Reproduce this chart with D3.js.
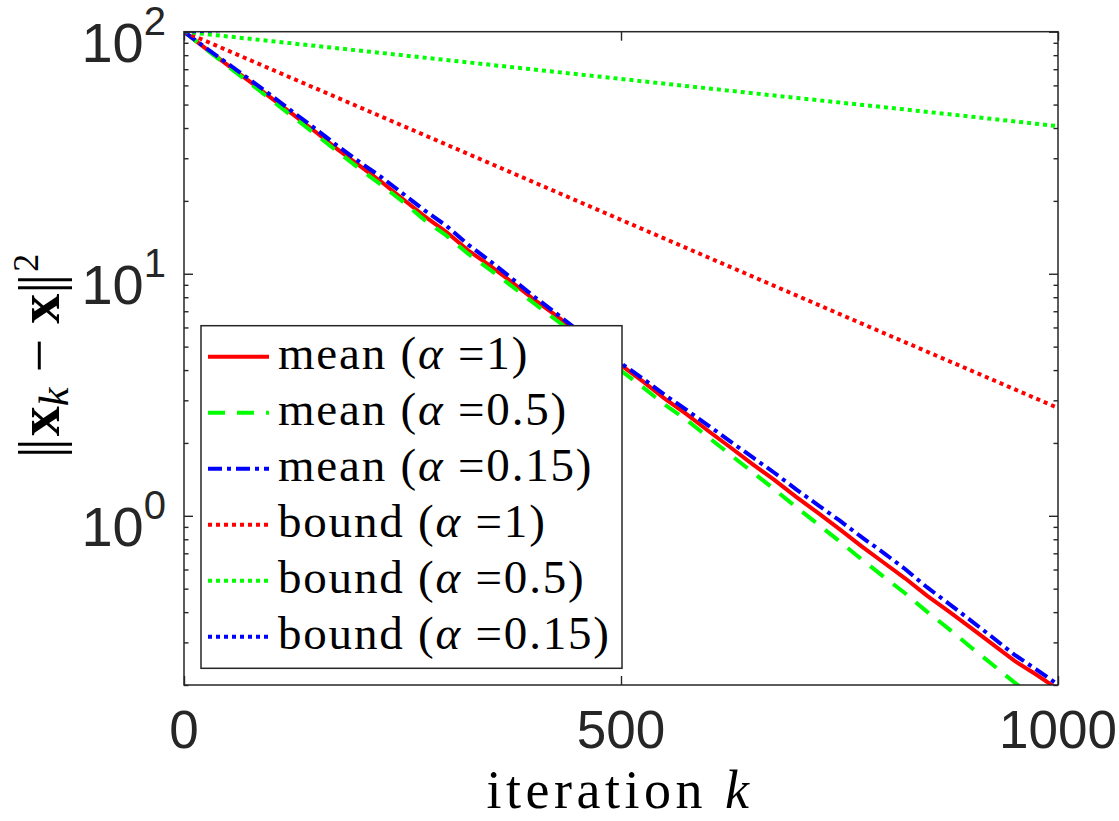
<!DOCTYPE html>
<html lang="en">
<head>
  <meta charset="utf-8" />
  <title>Convergence of iterates</title>
  <script src="https://d3js.org/d3.v7.min.js"></script>
  <style>
    body { margin: 0; padding: 0; background: #ffffff; }
    #chart { width: 1119px; height: 821px; }
    .tick-label { font-family: "Liberation Sans", Arial, sans-serif; fill: #262626; }
    .tex { font-family: "Liberation Serif", "Times New Roman", serif; fill: #000; }
  </style>
</head>
<body>
<div id="chart"></div>
<script>
// ---- data ----
const iterMean = [0, 25, 50, 75, 100, 125, 150, 175, 200, 225, 250, 275, 300, 325, 350, 375, 400,
  425, 450, 475, 500, 525, 550, 575, 600, 625, 650, 675, 700, 725, 750, 775, 800, 825, 850, 875,
  900, 925, 950, 975, 1000];

const meanA1 = [100, 85.1, 72.8, 62.4, 53.2, 45.4, 38.7, 32.8, 28.1, 24.1, 20.4, 17.3, 14.9, 12.5,
  10.8, 9.23, 7.85, 6.75, 5.75, 4.90, 4.19, 3.59, 3.05, 2.63, 2.24, 1.92, 1.64, 1.41, 1.20, 1.03,
  0.881, 0.750, 0.643, 0.552, 0.468, 0.403, 0.345, 0.295, 0.252, 0.221, 0.192];

const meanA05 = [100, 84.7, 72.1, 61.5, 52.2, 44.4, 37.8, 32.1, 27.3, 23.4, 19.9, 16.7, 14.4, 12.1,
  10.4, 8.89, 7.57, 6.47, 5.52, 4.68, 3.98, 3.40, 2.88, 2.49, 2.11, 1.79, 1.52, 1.29, 1.09, 0.925,
  0.785, 0.662, 0.562, 0.479, 0.402, 0.341, 0.287, 0.243, 0.205, 0.177, 0.151];

const meanA015 = [100, 85.7, 73.8, 63.5, 54.5, 46.5, 39.8, 33.9, 29.1, 25.2, 21.5, 18.3, 15.8, 13.2,
  11.3, 9.57, 8.07, 6.90, 5.86, 4.99, 4.27, 3.69, 3.16, 2.74, 2.36, 2.03, 1.75, 1.51, 1.29, 1.11,
  0.957, 0.818, 0.705, 0.603, 0.507, 0.434, 0.370, 0.315, 0.267, 0.232, 0.201];

const iterBound = [0, 100, 200, 300, 400, 500, 600, 700, 800, 900, 1000];
const boundA1   = [100, 69.9, 48.9, 34.2, 23.9, 16.7, 11.67, 8.16, 5.70, 3.99, 2.79];
const boundA05  = [100, 91.4, 83.6, 76.4, 69.8, 63.8, 58.3, 53.3, 48.8, 44.6, 40.7];
const boundA015 = [100, 103.5, 107.1, 110.8, 114.7, 118.7, 122.9, 127.2, 131.6, 136.2, 141.0];

const seriesKind  = ["mean", "mean", "mean", "bound", "bound", "bound"];
const seriesAlpha = ["1", "0.5", "0.15", "1", "0.5", "0.15"];

const xTickValues = [0, 500, 1000];
const yTickValues = [1, 10, 100];
const yTickExp    = ["0", "1", "2"];
const yMinorTicks = [0.2, 0.3, 0.4, 0.5, 0.6, 0.7, 0.8, 0.9, 2, 3, 4, 5, 6, 7, 8, 9,
  20, 30, 40, 50, 60, 70, 80, 90];

// ---- styles ----
const series = [
  { x: iterMean,  y: meanA1,    color: "#ff0000", dash: null },
  { x: iterMean,  y: meanA05,   color: "#00ff00", dash: "17,12" },
  { x: iterMean,  y: meanA015,  color: "#0000ff", dash: "14,5,4,5" },
  { x: iterBound, y: boundA1,   color: "#ff0000", dash: "4,4" },
  { x: iterBound, y: boundA05,  color: "#00ff00", dash: "4,4" },
  { x: iterBound, y: boundA015, color: "#0000ff", dash: "4,4" }
];

const W = 1119, H = 821;
const plot = { left: 184, right: 1058, top: 31.7, bottom: 685 };
const axisColor = "#262626";

const svg = d3.select("#chart").append("svg")
  .attr("width", W).attr("height", H);

const x = d3.scaleLinear().domain([0, 1000]).range([plot.left, plot.right]);
const y = d3.scaleLog().domain([0.2, 100]).range([plot.bottom, plot.top]);

svg.append("defs").append("clipPath").attr("id", "clip")
  .append("rect")
  .attr("x", plot.left).attr("y", plot.top)
  .attr("width", plot.right - plot.left).attr("height", plot.bottom - plot.top);

// ---- lines ----
const lineGen = d3.line().x(d => x(d[0])).y(d => y(d[1]));
const lines = svg.append("g").attr("clip-path", "url(#clip)");
series.forEach(s => {
  lines.append("path")
    .datum(s.x.map((k, i) => [k, s.y[i]]))
    .attr("d", lineGen)
    .attr("fill", "none")
    .attr("stroke", s.color)
    .attr("stroke-width", 4)
    .attr("stroke-dasharray", s.dash);
});

// ---- axes (ticks pointing inward, on all four sides) ----
function styleAxis(g) {
  g.select(".domain").remove();
  g.selectAll(".tick line").attr("stroke", axisColor).attr("stroke-width", 1.4);
  g.selectAll(".tick text").remove();
}
svg.append("g").attr("transform", `translate(${plot.left},0)`)
  .call(d3.axisRight(y).tickValues(yTickValues).tickSize(9)).call(styleAxis);
svg.append("g").attr("transform", `translate(${plot.left},0)`)
  .call(d3.axisRight(y).tickValues(yMinorTicks).tickSize(4.5)).call(styleAxis);
svg.append("g").attr("transform", `translate(${plot.right},0)`)
  .call(d3.axisLeft(y).tickValues(yTickValues).tickSize(9)).call(styleAxis);
svg.append("g").attr("transform", `translate(${plot.right},0)`)
  .call(d3.axisLeft(y).tickValues(yMinorTicks).tickSize(4.5)).call(styleAxis);
svg.append("g").attr("transform", `translate(0,${plot.bottom})`)
  .call(d3.axisTop(x).tickValues(xTickValues).tickSize(9)).call(styleAxis);
svg.append("g").attr("transform", `translate(0,${plot.top})`)
  .call(d3.axisBottom(x).tickValues(xTickValues).tickSize(9)).call(styleAxis);

svg.append("rect")
  .attr("x", plot.left).attr("y", plot.top)
  .attr("width", plot.right - plot.left).attr("height", plot.bottom - plot.top)
  .attr("fill", "none").attr("stroke", axisColor).attr("stroke-width", 1.5);

// ---- tick labels ----
svg.selectAll(".xlab").data(xTickValues).enter().append("text")
  .attr("class", "tick-label")
  .attr("x", d => x(d)).attr("y", 748)
  .attr("text-anchor", "middle")
  .style("font-size", "53px")
  .text(d => d);

yTickValues.forEach((v, i) => {
  const t = svg.append("text").attr("class", "tick-label")
    .attr("x", 166).attr("y", y(v) + 30)
    .attr("text-anchor", "end")
    .style("font-size", "56px");
  t.append("tspan").text("10");
  t.append("tspan").attr("dy", -27).style("font-size", "40px").text(yTickExp[i]);
});

// ---- axis labels ----
const xl = svg.append("text").attr("class", "tex")
  .attr("x", 620).attr("y", 808)
  .attr("text-anchor", "middle")
  .style("font-size", "54px")
  .style("letter-spacing", "4.5px");
xl.append("tspan").text("iteration ");
xl.append("tspan").style("font-style", "italic").text("k");

const yl = svg.append("text").attr("class", "tex")
  .attr("transform", "translate(59,356) rotate(-90)")
  .attr("text-anchor", "middle")
  .style("font-size", "60px");
yl.append("tspan").style("letter-spacing", "-4px").text("||");
yl.append("tspan").attr("dx", 6).style("font-weight", "bold").text("x");
yl.append("tspan").style("font-style", "italic").style("font-size", "42px").attr("dy", 9).text("k");
yl.append("tspan").attr("dy", -9).text(" \u2212 ");
yl.append("tspan").style("font-weight", "bold").text("x");
yl.append("tspan").style("letter-spacing", "-4px").text("||");
yl.append("tspan").attr("dx", 6).style("font-size", "36px").attr("dy", -21).text("2");

// ---- legend ----
const leg = { x: 201, y: 325.7, w: 421, h: 342.6, rowY: 356.7, rowStep: 56 };
const lg = svg.append("g");
lg.append("rect")
  .attr("x", leg.x).attr("y", leg.y).attr("width", leg.w).attr("height", leg.h)
  .attr("fill", "#ffffff").attr("stroke", axisColor).attr("stroke-width", 1.5);

series.forEach((s, i) => {
  const cy = leg.rowY + i * leg.rowStep;
  lg.append("line")
    .attr("x1", 208).attr("x2", 269).attr("y1", cy).attr("y2", cy)
    .attr("stroke", s.color).attr("stroke-width", 4)
    .attr("stroke-dasharray", s.dash);
  const t = lg.append("text").attr("class", "tex")
    .attr("x", 278).attr("y", cy + 12)
    .style("font-size", "47px")
    .style("letter-spacing", "1.8px");
  t.append("tspan").text(seriesKind[i] + " (");
  t.append("tspan").style("font-style", "italic").text("\u03b1");
  t.append("tspan").text(" =" + seriesAlpha[i] + ")");
});
</script>
</body>
</html>
